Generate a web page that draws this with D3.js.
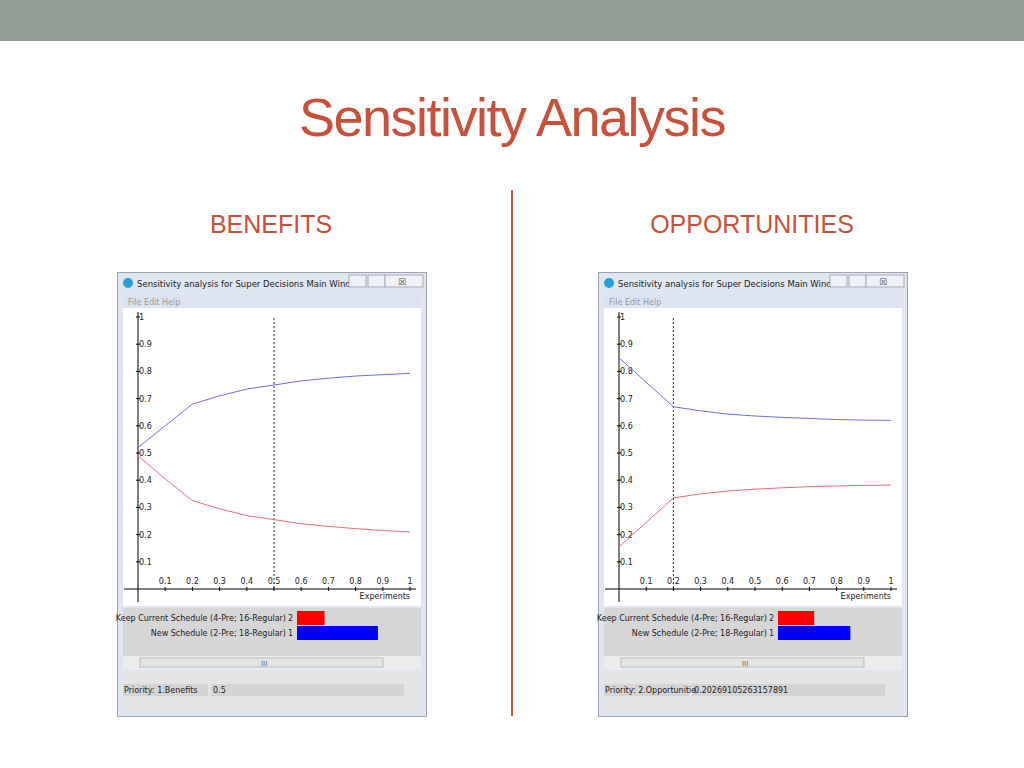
<!DOCTYPE html>
<html><head><meta charset="utf-8">
<script src="https://cdn.jsdelivr.net/npm/d3@7"></script>
<style>body{margin:0;background:#fff}</style>
</head><body>
<svg id="c" width="1024" height="768"></svg>
<script>
// experiment weights on the x axis
var steps = [0, 0.1, 0.2, 0.3, 0.4, 0.5, 0.6, 0.7, 0.8, 0.9, 1];
var xTicks = [0.1, 0.2, 0.3, 0.4, 0.5, 0.6, 0.7, 0.8, 0.9, 1];
var yTicks = [0.1, 0.2, 0.3, 0.4, 0.5, 0.6, 0.7, 0.8, 0.9, 1];
var alternatives = ["Keep Current Schedule (4-Pre; 16-Regular)", "New Schedule (2-Pre; 18-Regular)"];
var ranks = [2, 1];

// benefits
var benefitsKeep = [0.49, 0.405, 0.325, 0.295, 0.27, 0.255, 0.24, 0.23, 0.222, 0.215, 0.21];
var benefitsNew = [0.52, 0.60, 0.68, 0.71, 0.735, 0.75, 0.765, 0.775, 0.783, 0.788, 0.793];
var benefitsMarker = 0.5;
// opportunities
var oppKeep = [0.155, 0.245, 0.335, 0.35, 0.36, 0.367, 0.372, 0.376, 0.379, 0.381, 0.382];
var oppNew = [0.85, 0.76, 0.67, 0.655, 0.643, 0.636, 0.631, 0.627, 0.623, 0.621, 0.62];
var oppMarker = 0.2;

var svg = d3.select("#c");
var accent = "#c9503b";

svg.append("rect").attr("width", 1024).attr("height", 41).attr("fill", "#949f97");
svg.append("text").attr("x", 512).attr("y", 136).attr("text-anchor", "middle")
    .attr("font-family", "Liberation Sans, Arial").attr("font-size", 54)
    .attr("letter-spacing", -1.5).attr("fill", accent).text("Sensitivity Analysis");
svg.append("line").attr("x1", 512).attr("x2", 512).attr("y1", 190).attr("y2", 716)
    .attr("stroke", accent).attr("stroke-width", 2);
[["BENEFITS", 271], ["OPPORTUNITIES", 752]].forEach(function (h) {
    svg.append("text").attr("x", h[1]).attr("y", 233).attr("text-anchor", "middle")
        .attr("font-family", "Liberation Sans, Arial").attr("font-size", 25)
        .attr("fill", accent).text(h[0]);
});

function drawWindow(x0, keep, neu, marker, priorityName, priorityValue) {
    var g = svg.append("g").attr("transform", "translate(" + x0 + ",272)")
        .attr("font-family", "DejaVu Sans, sans-serif");
    // frame
    g.append("rect").attr("x", 0.5).attr("y", 0.5).attr("width", 309).attr("height", 444)
        .attr("fill", "#dfe6ef").attr("stroke", "#9aa3ad");
    g.append("text").attr("x", 20).attr("y", 15).attr("font-size", 8.5).attr("fill", "#222")
        .text("Sensitivity analysis for Super Decisions Main Windo...");
    g.append("circle").attr("cx", 11).attr("cy", 11).attr("r", 5).attr("fill", "#2a9fd6");
    [[232, 17], [251, 17], [268, 38]].forEach(function (b, i) {
        g.append("rect").attr("x", b[0]).attr("y", 3).attr("width", b[1]).attr("height", 12)
            .attr("fill", "#eef1f5").attr("stroke", "#aab");
    });
    g.append("text").attr("x", 281).attr("y", 13).attr("font-size", 9).attr("fill", "#555").text("☒");
    // menu
    g.append("rect").attr("x", 6).attr("y", 22).attr("width", 298).attr("height", 14).attr("fill", "#dde3f0");
    g.append("text").attr("x", 11).attr("y", 33).attr("font-size", 8).attr("fill", "#999")
        .text("File   Edit   Help");
    // plot area
    g.append("rect").attr("x", 6).attr("y", 36).attr("width", 298).attr("height", 298).attr("fill", "#fff");

    var x = d3.scaleLinear().domain([0, 1]).range([21, 293]);
    var y = d3.scaleLinear().domain([0, 1]).range([317, 45]);
    g.append("line").attr("x1", 21).attr("x2", 21).attr("y1", 40).attr("y2", 330).attr("stroke", "#000");
    g.append("line").attr("x1", 7).attr("x2", 299).attr("y1", 317).attr("y2", 317).attr("stroke", "#000");
    yTicks.forEach(function (t) {
        g.append("line").attr("x1", 19).attr("x2", 23).attr("y1", y(t)).attr("y2", y(t)).attr("stroke", "#000");
        g.append("text").attr("x", 22).attr("y", y(t) + 3).attr("font-size", 8).attr("fill", "#222").text(t);
    });
    xTicks.forEach(function (t) {
        g.append("line").attr("x1", x(t)).attr("x2", x(t)).attr("y1", 315).attr("y2", 319).attr("stroke", "#000");
        g.append("text").attr("x", x(t)).attr("y", 312).attr("font-size", 8).attr("text-anchor", "middle")
            .attr("fill", "#222").text(t);
    });
    g.append("text").attr("x", 293).attr("y", 327).attr("font-size", 8).attr("text-anchor", "end")
        .attr("fill", "#222").text("Experiments");
    g.append("line").attr("x1", x(marker)).attr("x2", x(marker)).attr("y1", 46).attr("y2", 317)
        .attr("stroke", "#333").attr("stroke-dasharray", "2,2");
    var line = d3.line().x(function (d, i) { return x(steps[i]); }).y(function (d) { return y(d); });
    g.append("path").attr("d", line(neu)).attr("fill", "none").attr("stroke", "#6b6bf0");
    g.append("path").attr("d", line(keep)).attr("fill", "none").attr("stroke", "#f06b7a");

    // ranking panel
    g.append("rect").attr("x", 6).attr("y", 336).attr("width", 298).attr("height", 48).attr("fill", "#d6d6d6");
    var markerIdx = steps.indexOf(marker);
    var bar = d3.scaleLinear().domain([0, 1]).range([0, 108]);
    [keep[markerIdx], neu[markerIdx]].forEach(function (v, i) {
        var yy = 339 + i * 15;
        g.append("text").attr("x", 169).attr("y", yy + 10).attr("font-size", 8).attr("text-anchor", "end")
            .attr("fill", "#222").text(alternatives[i]);
        g.append("text").attr("x", 176).attr("y", yy + 10).attr("font-size", 8).attr("text-anchor", "end")
            .attr("fill", "#222").text(ranks[i]);
        g.append("rect").attr("x", 180).attr("y", yy).attr("width", bar(v)).attr("height", 14)
            .attr("fill", i ? "#0000ff" : "#ff0000");
    });
    // scrollbar
    g.append("rect").attr("x", 6).attr("y", 384).attr("width", 298).attr("height", 14).attr("fill", "#ececec");
    g.append("rect").attr("x", 23).attr("y", 386).attr("width", 243).attr("height", 9)
        .attr("fill", "#e2e4e6").attr("stroke", "#bbb");
    g.append("text").attr("x", 144).attr("y", 394).attr("font-size", 7).attr("fill", "#666").text("III");
    // status area
    g.append("rect").attr("x", 6).attr("y", 400).attr("width", 298).attr("height", 40).attr("fill", "#e4e4e4");
    g.append("rect").attr("x", 6).attr("y", 412).attr("width", 85).attr("height", 12).attr("fill", "#d4d4d4");
    g.append("rect").attr("x", 94).attr("y", 412).attr("width", 193).attr("height", 12).attr("fill", "#d4d4d4");
    g.append("text").attr("x", 7).attr("y", 421).attr("font-size", 8).attr("fill", "#222").text(priorityName);
    g.append("text").attr("x", 96).attr("y", 421).attr("font-size", 8).attr("fill", "#222").text(priorityValue);
}

drawWindow(117, benefitsKeep, benefitsNew, benefitsMarker, "Priority: 1.Benefits", "0.5");
drawWindow(598, oppKeep, oppNew, oppMarker, "Priority: 2.Opportunitie", "0.20269105263157891");
</script>
</body></html>
